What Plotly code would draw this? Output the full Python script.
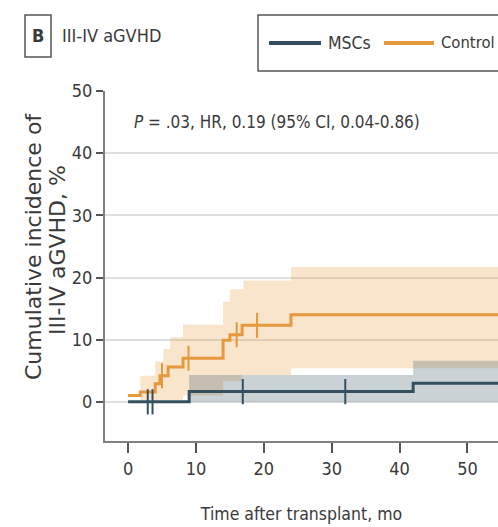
import plotly.graph_objects as go

# Control arm: cumulative incidence step curve (%), months
ctrl_t = [0, 1.8, 4.0, 4.7, 5.9, 8.1, 14.0, 15.0, 16.8, 24.0, 56]
ctrl_v = [1.0, 1.6, 2.9, 4.2, 5.6, 7.0, 9.9, 10.8, 12.3, 14.0, 14.0]
ctrl_hi_t = [0, 1.8, 4.0, 5.2, 6.2, 8.1, 14.0, 15.0, 17.0, 24.0, 56]
ctrl_hi = [1.0, 4.2, 6.5, 8.5, 10.4, 12.4, 16.1, 18.1, 19.5, 21.7, 21.7]
ctrl_lo_t = [0, 1.8, 8.1, 14.0, 16.8, 24.0, 56]
ctrl_lo = [1.0, 0.3, 1.0, 3.3, 4.3, 5.4, 5.4]
ctrl_cens = [5.0, 8.9, 16.0, 19.0]

# MSCs arm
msc_t = [0, 9.0, 42.0, 56]
msc_v = [0, 1.65, 3.0, 3.0]
msc_hi = [0, 4.3, 6.6, 6.6]
msc_lo = [0, 0, 0, 0]
msc_cens = [2.9, 3.6, 16.9, 32.0]

x_ticks = [0, 10, 20, 30, 40, 50]
y_ticks = [0, 10, 20, 30, 40, 50]

ORANGE = "#E5983C"
ORANGE_FILL = "rgba(232,150,50,0.25)"
TEAL = "#33505F"
TEAL_FILL = "rgba(46,74,90,0.25)"
TEXT = "#3a3a3a"
COND = "DejaVu Sans Condensed, sans-serif"
WIDE = "DejaVu Sans, sans-serif"


def step_at(ts, vs, t):
    v = vs[0]
    for ti, vi in zip(ts, vs):
        if ti <= t:
            v = vi
    return v


fig = go.Figure()

# confidence bands
fig.add_trace(go.Scatter(x=ctrl_lo_t, y=ctrl_lo, mode="lines", line=dict(width=0, shape="hv"),
                         showlegend=False, hoverinfo="skip"))
fig.add_trace(go.Scatter(x=ctrl_hi_t, y=ctrl_hi, mode="lines", line=dict(width=0, shape="hv"),
                         fill="tonexty", fillcolor=ORANGE_FILL, showlegend=False, hoverinfo="skip"))
fig.add_trace(go.Scatter(x=msc_t, y=msc_lo, mode="lines", line=dict(width=0, shape="hv"),
                         showlegend=False, hoverinfo="skip"))
fig.add_trace(go.Scatter(x=msc_t, y=msc_hi, mode="lines", line=dict(width=0, shape="hv"),
                         fill="tonexty", fillcolor=TEAL_FILL, showlegend=False, hoverinfo="skip"))

# step curves
fig.add_trace(go.Scatter(x=ctrl_t, y=ctrl_v, mode="lines", name="Control",
                         line=dict(color=ORANGE, width=3, shape="hv")))
fig.add_trace(go.Scatter(x=msc_t, y=msc_v, mode="lines", name="MSCs",
                         line=dict(color=TEAL, width=3, shape="hv")))

# censoring ticks
fig.add_trace(go.Scatter(x=ctrl_cens, y=[step_at(ctrl_t, ctrl_v, t) for t in ctrl_cens],
                         mode="markers", showlegend=False,
                         marker=dict(symbol="line-ns", size=18, line=dict(color=ORANGE, width=2))))
fig.add_trace(go.Scatter(x=msc_cens, y=[step_at(msc_t, msc_v, t) for t in msc_cens],
                         mode="markers", showlegend=False,
                         marker=dict(symbol="line-ns", size=18, line=dict(color=TEAL, width=2))))

L, T, B = 105, 91, 86
W, H = 498, 527
PW, PH = W - L, H - T - B


def px(x):
    return (x - L) / PW


def py(y):
    return (H - B - y) / PH


shapes = [
    # panel letter box
    dict(type="rect", xref="paper", yref="paper", x0=px(25), x1=px(51), y0=py(57), y1=py(15),
         line=dict(color="#555", width=1.5)),
    # legend frame
    dict(type="rect", xref="paper", yref="paper", x0=px(258), x1=px(540), y0=py(71), y1=py(15),
         line=dict(color="#555", width=1.5)),
    dict(type="line", xref="paper", yref="paper", x0=px(269), x1=px(321), y0=py(43), y1=py(43),
         line=dict(color=TEAL, width=4)),
    dict(type="line", xref="paper", yref="paper", x0=px(384), x1=px(434), y0=py(43), y1=py(43),
         line=dict(color=ORANGE, width=4)),
]


def note(text, x, y, size, family=COND, anchor="left", angle=0):
    return dict(text=text, x=px(x), y=py(y), xref="paper", yref="paper", showarrow=False,
                textangle=angle, font=dict(family=family, size=size, color=TEXT),
                xanchor=anchor, yanchor="middle")


annotations = [
    note("<b>B</b>", 38, 36, 18, anchor="center"),
    note("III-IV aGVHD", 60, 35, 18),
    note("MSCs", 326, 43, 17.5),
    note("Control", 439, 43, 16.5),
    note("<i>P</i> = .03, HR, 0.19 (95% CI, 0.04-0.86)", 132, 122, 17),
    note("Cumulative incidence of", 33, 247, 22, family=WIDE, anchor="center", angle=-90),
    note("III-IV aGVHD, %", 57, 250, 22, family=WIDE, anchor="center", angle=-90),
]

fig.update_layout(
    width=W, height=H,
    margin=dict(l=L, r=0, t=T, b=B),
    plot_bgcolor="white", paper_bgcolor="white",
    showlegend=False,
    shapes=shapes, annotations=annotations,
    xaxis=dict(range=[-3.4, 54.5], tickvals=x_ticks, showgrid=False, zeroline=False,
               showline=True, linecolor="#808080", linewidth=2,
               ticks="outside", ticklen=10, tickwidth=1.5, tickcolor="#555",
               tickfont=dict(family=COND, size=18, color=TEXT),
               title=dict(text="Time after transplant, mo", standoff=30,
                          font=dict(family=COND, size=17.5, color=TEXT))),
    yaxis=dict(range=[-6.3, 50], tickvals=y_ticks, showgrid=True, gridcolor="#dedede",
               gridwidth=2, zeroline=False,
               showline=True, linecolor="#808080", linewidth=2,
               ticks="outside", ticklen=7, tickwidth=1.5, tickcolor="#555",
               tickfont=dict(family=COND, size=18, color=TEXT)),
)

fig.write_html("out.html")
